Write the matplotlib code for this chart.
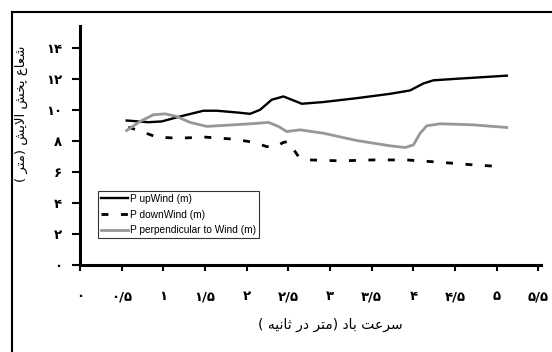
import matplotlib
matplotlib.use("Agg")
import matplotlib.pyplot as plt
from matplotlib.lines import Line2D

# ---- data -------------------------------------------------------------
up_x = [0.56, 0.82, 0.98, 1.2, 1.48, 1.64, 1.88, 2.04, 2.16, 2.3, 2.44, 2.54,
        2.66, 2.92, 3.32, 3.72, 3.96, 4.12, 4.24, 4.52, 5.12]
up_y = [9.31, 9.2, 9.25, 9.57, 9.94, 9.94, 9.83, 9.74, 10.0, 10.65, 10.86, 10.65,
        10.39, 10.5, 10.75, 11.03, 11.25, 11.7, 11.9, 12.0, 12.2]

down_x = [0.58, 0.74, 0.92, 1.18, 1.5, 1.84, 2.08, 2.24, 2.34, 2.44, 2.5, 2.54,
          2.62, 2.76, 3.12, 3.52, 3.92, 4.32, 4.72, 5.06]
down_y = [8.88, 8.6, 8.24, 8.17, 8.24, 8.11, 7.91, 7.63, 7.59, 7.9, 7.96, 7.63,
          6.99, 6.77, 6.71, 6.77, 6.77, 6.62, 6.45, 6.34]

perp_x = [0.56, 0.72, 0.88, 1.02, 1.16, 1.32, 1.52, 1.84, 2.1, 2.26, 2.38, 2.48,
          2.64, 2.92, 3.32, 3.72, 3.9, 4.0, 4.08, 4.16, 4.32, 4.72, 5.12]
perp_y = [8.67, 9.25, 9.68, 9.74, 9.57, 9.19, 8.93, 9.03, 9.12, 9.19, 8.93, 8.6,
          8.71, 8.49, 8.02, 7.68, 7.57, 7.74, 8.49, 8.97, 9.1, 9.03, 8.86]

series_labels = ["P upWind (m)", "P downWind (m)", "P perpendicular to Wind (m)"]

x_ticks = [0, 0.5, 1, 1.5, 2, 2.5, 3, 3.5, 4, 4.5, 5, 5.5]
x_ticklabels = ["۰", "۰/۵", "۱", "۱/۵", "۲", "۲/۵", "۳", "۳/۵", "۴", "۴/۵", "۵", "۵/۵"]
y_ticks = [0, 2, 4, 6, 8, 10, 12, 14]
y_ticklabels = ["۰", "۲", "۴", "۶", "۸", "۱۰", "۱۲", "۱۴"]

x_title = "سرعت باد (متر در ثانیه )"
y_title = "شعاع پخش آلایش (متر )"

# ---- minimal Persian shaping (presentation forms + visual order) -------
FORMS = {
    "ا": ("\uFE8D", "\uFE8E", None, None),
    "آ": ("\uFE81", "\uFE82", None, None),
    "ب": ("\uFE8F", "\uFE90", "\uFE91", "\uFE92"),
    "پ": ("\uFB56", "\uFB57", "\uFB58", "\uFB59"),
    "ت": ("\uFE95", "\uFE96", "\uFE97", "\uFE98"),
    "ث": ("\uFE99", "\uFE9A", "\uFE9B", "\uFE9C"),
    "خ": ("\uFEA5", "\uFEA6", "\uFEA7", "\uFEA8"),
    "د": ("\uFEA9", "\uFEAA", None, None),
    "ر": ("\uFEAD", "\uFEAE", None, None),
    "س": ("\uFEB1", "\uFEB2", "\uFEB3", "\uFEB4"),
    "ش": ("\uFEB5", "\uFEB6", "\uFEB7", "\uFEB8"),
    "ع": ("\uFEC9", "\uFECA", "\uFECB", "\uFECC"),
    "ل": ("\uFEDD", "\uFEDE", "\uFEDF", "\uFEE0"),
    "م": ("\uFEE1", "\uFEE2", "\uFEE3", "\uFEE4"),
    "ن": ("\uFEE5", "\uFEE6", "\uFEE7", "\uFEE8"),
    "ه": ("\uFEE9", "\uFEEA", "\uFEEB", "\uFEEC"),
    "ی": ("\uFBFC", "\uFBFD", "\uFBFE", "\uFBFF"),
}


def shape_fa(text):
    # merge lam + alef into one ligature unit
    units = []
    i = 0
    while i < len(text):
        if text[i] == "ل" and i + 1 < len(text) and text[i + 1] == "ا":
            units.append("LA")
            i += 2
        else:
            units.append(text[i])
            i += 1

    def joins_left(u):
        return u in FORMS and FORMS[u][2] is not None

    def is_letter(u):
        return u in FORMS or u == "LA"

    out = []
    for k, u in enumerate(units):
        prev_j = k > 0 and joins_left(units[k - 1])
        next_l = k + 1 < len(units) and is_letter(units[k + 1])
        if u == "LA":
            out.append("\uFEFC" if prev_j else "\uFEFB")
            continue
        if u not in FORMS:
            out.append(u)
            continue
        iso, fin, ini, med = FORMS[u]
        if prev_j and next_l and med:
            out.append(med)
        elif prev_j:
            out.append(fin)
        elif next_l and ini:
            out.append(ini)
        else:
            out.append(iso)
    mirror = {"(": ")", ")": "("}
    return "".join(mirror.get(c, c) for c in reversed(out))


# ---- figure -----------------------------------------------------------
W, H = 552, 352
fig = plt.figure(figsize=(W / 100, H / 100), dpi=100)
ax = fig.add_axes([80 / W, 1 - 265 / H, (541 - 80) / W, (265 - 26) / H])

ax.plot(up_x, up_y, color="black", lw=1.7, label=series_labels[0])
ax.plot(down_x, down_y, color="black", lw=2.0, dashes=(2.5, 4.5),
        label=series_labels[1])
ax.plot(perp_x, perp_y, color="#979797", lw=2.0, label=series_labels[2])

ax.set_xlim(0, 5.53)
ax.set_ylim(0, 15.4)

for side in ("top", "right"):
    ax.spines[side].set_visible(False)
for side in ("left", "bottom"):
    ax.spines[side].set_linewidth(2.2)

fa_font = "DejaVu Sans"
ax.set_xticks(x_ticks)
ax.set_xticklabels(x_ticklabels, family=fa_font, fontsize=9.5, fontweight="bold")
ax.set_yticks(y_ticks)
ax.set_yticklabels(y_ticklabels, family=fa_font, fontsize=9.5, fontweight="bold")
ax.tick_params(axis="x", direction="out", length=4, width=1.5, pad=14)
ax.tick_params(axis="y", direction="out", length=6, width=1.5, pad=7)

fig.text(330 / W, 1 - 325 / H, shape_fa(x_title), family=fa_font,
         fontsize=10, ha="center", va="center")
fig.text(20 / W, 1 - 114 / H, shape_fa(y_title), family=fa_font,
         fontsize=9.5, ha="center", va="center", rotation=90)

leg = ax.legend(loc="upper left", bbox_to_anchor=(98 / W, 1 - 191 / H),
                bbox_transform=fig.transFigure,
                prop={"family": "Liberation Sans", "size": 7.3},
                frameon=True, fancybox=False, handlelength=2.7,
                handletextpad=0.15, borderpad=0.3, labelspacing=0.55,
                borderaxespad=0)
leg.get_frame().set_edgecolor("black")
leg.get_frame().set_linewidth(0.8)

# outer chart-area frame (top and left edges)
x0, y0 = 11.5 / W, 1 - 11.5 / H
fig.add_artist(Line2D([x0, x0], [0, y0], color="black", lw=1.5,
                      transform=fig.transFigure))
fig.add_artist(Line2D([x0, 1], [y0, y0], color="black", lw=1.5,
                      transform=fig.transFigure))

fig.savefig("out.png", dpi=100)
